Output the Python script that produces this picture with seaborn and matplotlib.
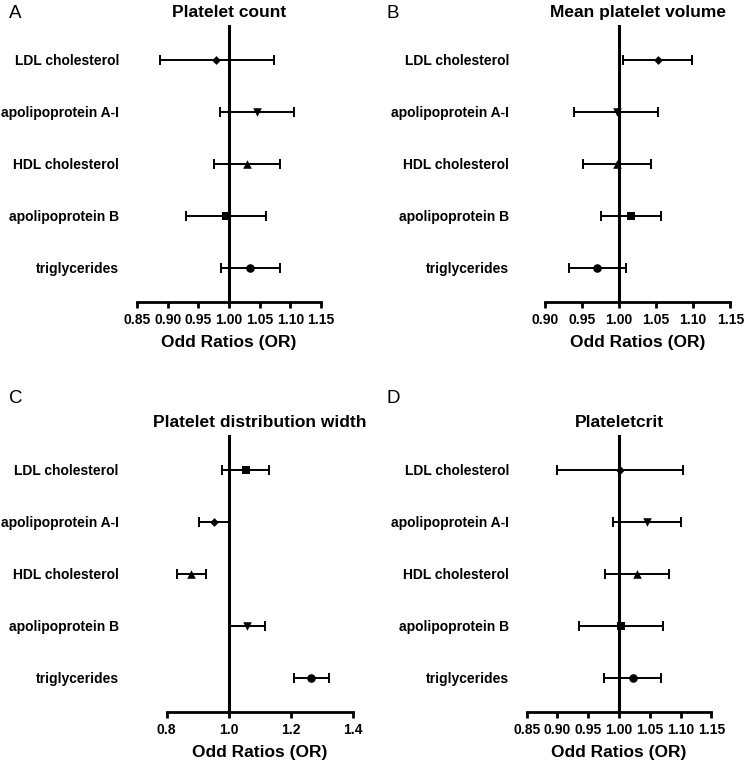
"""Forest plots of lipid traits vs platelet indices (odds ratios)."""
import matplotlib
matplotlib.use("Agg")
import matplotlib.pyplot as plt
import numpy as np
import pandas as pd
import seaborn as sns

# categories (top to bottom)
traits = ["LDL cholesterol", "apolipoprotein A-I", "HDL cholesterol",
          "apolipoprotein B", "triglycerides"]

# A: platelet count
or_a = [0.979, 1.046, 1.029, 0.995, 1.035]
lo_a = [0.887, 0.986, 0.976, 0.930, 0.987]
hi_a = [1.073, 1.106, 1.083, 1.060, 1.083]
mk_a = ["D", "v", "^", "s", "o"]

# B: mean platelet volume
or_b = [1.052, 0.997, 0.998, 1.016, 0.970]
lo_b = [1.005, 0.940, 0.952, 0.976, 0.933]
hi_b = [1.099, 1.053, 1.043, 1.056, 1.009]
mk_b = ["D", "v", "^", "s", "o"]

# C: platelet distribution width
or_c = [1.055, 0.952, 0.877, 1.059, 1.267]
lo_c = [0.978, 0.905, 0.832, 1.004, 1.211]
hi_c = [1.131, 1.000, 0.926, 1.116, 1.324]
mk_c = ["s", "D", "^", "v", "o"]

# D: plateletcrit
or_d = [1.002, 1.046, 1.029, 1.003, 1.022]
lo_d = [0.900, 0.990, 0.977, 0.935, 0.976]
hi_d = [1.104, 1.101, 1.081, 1.071, 1.068]
mk_d = ["D", "v", "^", "s", "o"]

titles = ["Platelet count", "Mean platelet volume",
          "Platelet distribution width", "Plateletcrit"]
xticks_a = [0.85, 0.90, 0.95, 1.00, 1.05, 1.10, 1.15]
xticks_b = [0.90, 0.95, 1.00, 1.05, 1.10, 1.15]
xticks_c = [0.8, 1.0, 1.2, 1.4]
xticks_d = [0.85, 0.90, 0.95, 1.00, 1.05, 1.10, 1.15]
letters = ["A", "B", "C", "D"]

sns.set_theme(style="white")
plt.rcParams["font.family"] = ["Liberation Sans", "DejaVu Sans"]
plt.rcParams["font.weight"] = "bold"
plt.rcParams["text.color"] = "black"
plt.rcParams["axes.labelcolor"] = "black"
plt.rcParams["xtick.color"] = "black"
plt.rcParams["ytick.color"] = "black"

fig = plt.figure(figsize=(7.44, 7.62), dpi=100)
W, H = 744, 762


def px_axes(x0, x1, ytop, ybot):
    return fig.add_axes([x0 / W, 1 - ybot / H, (x1 - x0) / W, (ybot - ytop) / H])


panels = [
    (px_axes(137, 321, 25, 302), or_a, lo_a, hi_a, mk_a, xticks_a, "{:.2f}", 13.0),
    (px_axes(544.7, 730.3, 25, 302), or_b, lo_b, hi_b, mk_b, xticks_b, "{:.2f}", 25.5),
    (px_axes(166.7, 352.7, 435, 712), or_c, lo_c, hi_c, mk_c, xticks_c, "{:.1f}", 34.5),
    (px_axes(526.7, 711.3, 435, 712), or_d, lo_d, hi_d, mk_d, xticks_d, "{:.2f}", 12.5),
]
sizes = {"D": 20, "v": 38, "^": 38, "s": 34, "o": 38}

for i, (ax, ors, los, his, mks, ticks, fmt, ypad) in enumerate(panels):
    df = pd.DataFrame({"trait": traits, "OR": ors, "lo": los, "hi": his, "mk": mks})
    ypos = np.arange(len(traits))
    ax.errorbar(df["OR"], ypos,
                xerr=[df["OR"] - df["lo"], df["hi"] - df["OR"]],
                fmt="none", ecolor="black", elinewidth=1.4,
                capsize=3.6, capthick=1.4, zorder=2)
    for m in df["mk"].unique():
        sub = df[df["mk"] == m]
        sns.scatterplot(x=sub["OR"].values, y=ypos[df["mk"] == m], marker=m,
                        s=sizes[m], color="black", edgecolor="black",
                        linewidth=0, ax=ax, zorder=3, legend=False)
    ax.axvline(1.0, color="black", lw=2.2, zorder=5)

    ax.set_xlim(ticks[0], ticks[-1])
    ax.set_ylim(4.66, -0.67)
    ax.set_yticks(ypos)
    ax.set_yticklabels(traits, fontsize=10, fontweight="bold", color="black")
    ax.set_xticks(ticks)
    ax.set_xticklabels([fmt.format(t) for t in ticks], fontsize=10,
                       fontweight="bold", color="black")

    for s in ["top", "right", "left"]:
        ax.spines[s].set_visible(False)
    ax.spines["bottom"].set_linewidth(2.0)
    ax.spines["bottom"].set_color("black")
    ax.spines["bottom"].set_capstyle("projecting")
    ax.tick_params(axis="x", direction="out", length=4.5, width=2.0,
                   color="black", pad=3.5, bottom=True)
    ax.tick_params(axis="y", length=0, pad=ypad, left=False)
    ax.grid(False)

    ax.set_title(titles[i], fontsize=12.5, fontweight="bold", pad=6, color="black")
    ax.set_xlabel("Odd Ratios (OR)", fontsize=12.5, fontweight="bold",
                  labelpad=6, color="black")
    ax.set_ylabel("")

fig.text(9 / W, 1 - 5 / H, "A", fontsize=13.5, fontweight="normal", va="top", ha="left")
fig.text(386 / W, 1 - 5 / H, "B", fontsize=13.5, fontweight="normal", va="top", ha="left")
fig.text(9 / W, 1 - 390 / H, "C", fontsize=13.5, fontweight="normal", va="top", ha="left")
fig.text(386 / W, 1 - 390 / H, "D", fontsize=13.5, fontweight="normal", va="top", ha="left")

fig.savefig("out.png", dpi=100)
plt.close(fig)
